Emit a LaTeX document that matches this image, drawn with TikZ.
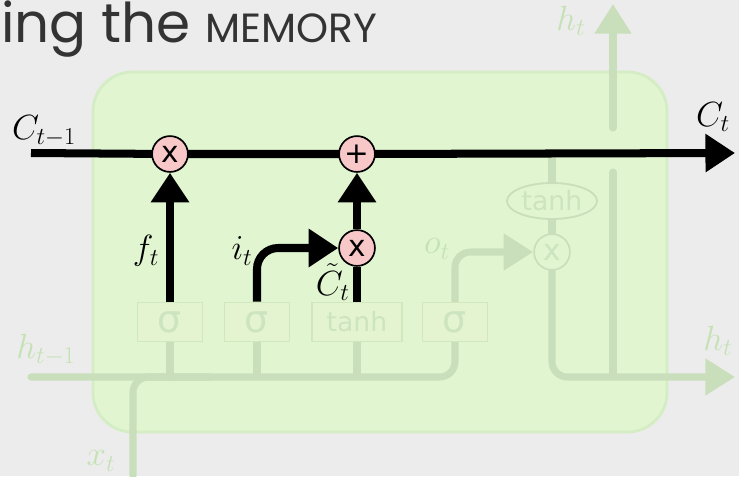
\documentclass[tikz,border=0pt]{standalone}
\usepackage{fontspec}
\setsansfont{DejaVu Sans}
\newfontfamily\titlefont{Poppins}
\usetikzlibrary{arrows.meta, positioning, shapes.geometric}
\definecolor{slidegray}{RGB}{236,236,236}
\definecolor{titlegray}{RGB}{51,51,51}
\definecolor{cellgreen}{RGB}{224,245,208}
\definecolor{celledge}{RGB}{212,237,196}
\definecolor{fadegreen}{RGB}{201,223,187}
\definecolor{gatefill}{RGB}{228,244,208}
\definecolor{gateedge}{RGB}{209,232,191}
\definecolor{gatetext}{RGB}{205,228,192}
\definecolor{labelgreen}{RGB}{196,226,180}
\definecolor{oppink}{RGB}{248,200,200}
\pgfdeclarelayer{bg}
\pgfdeclarelayer{wires}
\pgfsetlayers{bg,wires,main}
\tikzset{
  cell/.style={draw=celledge, fill=cellgreen, line width=2pt, rounded corners=28pt},
  memline/.style={draw=black, line width=5.7pt},
  memarrow/.style={memline, -{Triangle[length=21pt,width=26pt]}},
  faded/.style={draw=fadegreen, line width=5pt, line cap=round, rounded corners=11pt},
  fadedarrow/.style={faded, -{Triangle[length=21pt,width=25pt]}},
  gate/.style={draw=gateedge, fill=gatefill, line width=1.3pt, text=gatetext,
               minimum width=1.625cm, minimum height=0.975cm, inner sep=0pt,
               font=\sffamily\fontsize{27}{27}\selectfont},
  widegate/.style={gate, minimum width=2.25cm, font=\sffamily\fontsize{19}{20}\selectfont},
  op/.style={circle, draw=black, fill=oppink, line width=1.2pt, minimum size=25.5pt,
             inner sep=0pt, font=\sffamily\fontsize{21}{21}\selectfont},
  fadedop/.style={op, draw=fadegreen, fill=cellgreen, text=gatetext},
  squashbox/.style={ellipse, draw=fadegreen, fill=cellgreen, line width=1.3pt, text=gatetext,
                    minimum width=2.25cm, minimum height=0.9cm, inner sep=0pt,
                    font=\sffamily\fontsize{19}{20}\selectfont},
  lbl/.style={font=\fontsize{26}{30}\selectfont, inner sep=0pt},
  fadedlbl/.style={lbl, text=labelgreen},
}
\begin{document}
\begin{tikzpicture}[x=0.025cm, y=-0.025cm]
\begin{pgfonlayer}{bg}
  \fill[slidegray] (0,0) rectangle (739,476);
  \draw[cell] (93,72) rectangle (667,432);
\end{pgfonlayer}
\useasboundingbox (0,0) rectangle (739,476);

% title
\node[anchor=base west, inner sep=0pt, text=titlegray, font=\titlefont\fontsize{39}{42}\selectfont]
  (title) at (1,42) {ing the {\fontsize{29}{32}\selectfont MEMORY}};

% operations
\node[op] (forget) at (170,154) {x};
\node[op] (add) at (357,154) {+};
\node[op] (input) at (357,248) {x};
\node[fadedop] (output) at (552,252) {x};
\node[squashbox] (squash) at (552,201) {tanh};

% gates
\node[gate] (fgate) at (170,322) {σ};
\node[gate] (igate) at (257,322) {σ};
\node[widegate] (cgate) at (357,322) {tanh};
\node[gate] (ogate) at (455,322) {σ};

% free ends
\coordinate (cin) at (31,153);
\coordinate (cout) at (735,153);
\coordinate (hin) at (31,377);
\coordinate (hout) at (735,377);
\coordinate (xin) at (133,476);
\coordinate (xjoin) at (210,377);
\coordinate (hsplit) at (613,377);
\coordinate (gapbot) at (613,172);
\coordinate (gaptop) at (613,128);
\coordinate (htop) at (613,4);

\begin{pgfonlayer}{wires}
  % faded part of the cell
  \draw[faded] (hin) -| (ogate);
  \draw[faded] (xin) |- (xjoin);
  \foreach \g in {fgate, igate, cgate}
    \draw[faded] (\g) -- (\g |- hin);
  \draw[fadedarrow] (ogate) |- (output);
  \draw[faded] (squash) -- (squash |- cin);
  \draw[faded] (squash) -- (output);
  \draw[fadedarrow] (output) |- (hout);
  \draw[faded] (hsplit) -- (gapbot);
  \draw[fadedarrow] (gaptop) -- (htop);
  % memory path
  \draw[memarrow] (cin) -- (forget.center) -- (add.center) -- (cout);
  \draw[memarrow] (fgate) -- (forget);
  \draw[memarrow, rounded corners=15pt] (igate) |- (input);
  \draw[memline] (cgate) -- (input);
  \draw[memarrow] (input) -- (add);
\end{pgfonlayer}

% labels
\node[lbl] (cinlbl) at (44,131) {$C_{t-1}$};
\node[lbl] (coutlbl) at (713,117) {$C_t$};
\node[lbl] (flbl) at (146,251) {$f_t$};
\node[lbl] (ilbl) at (242,251) {$i_t$};
\node[lbl, font=\fontsize{25}{28}\selectfont, anchor=south east] (clbl) at (350,301) {$\tilde{C}_t$};
\node[fadedlbl] (olbl) at (437,249) {$o_t$};
\node[fadedlbl] (hinlbl) at (46,350) {$h_{t-1}$};
\node[fadedlbl] (xlbl) at (101,461) {$x_t$};
\node[fadedlbl] (htoplbl) at (571,21) {$h_t$};
\node[fadedlbl] (houtlbl) at (718,341) {$h_t$};
\end{tikzpicture}
\end{document}
